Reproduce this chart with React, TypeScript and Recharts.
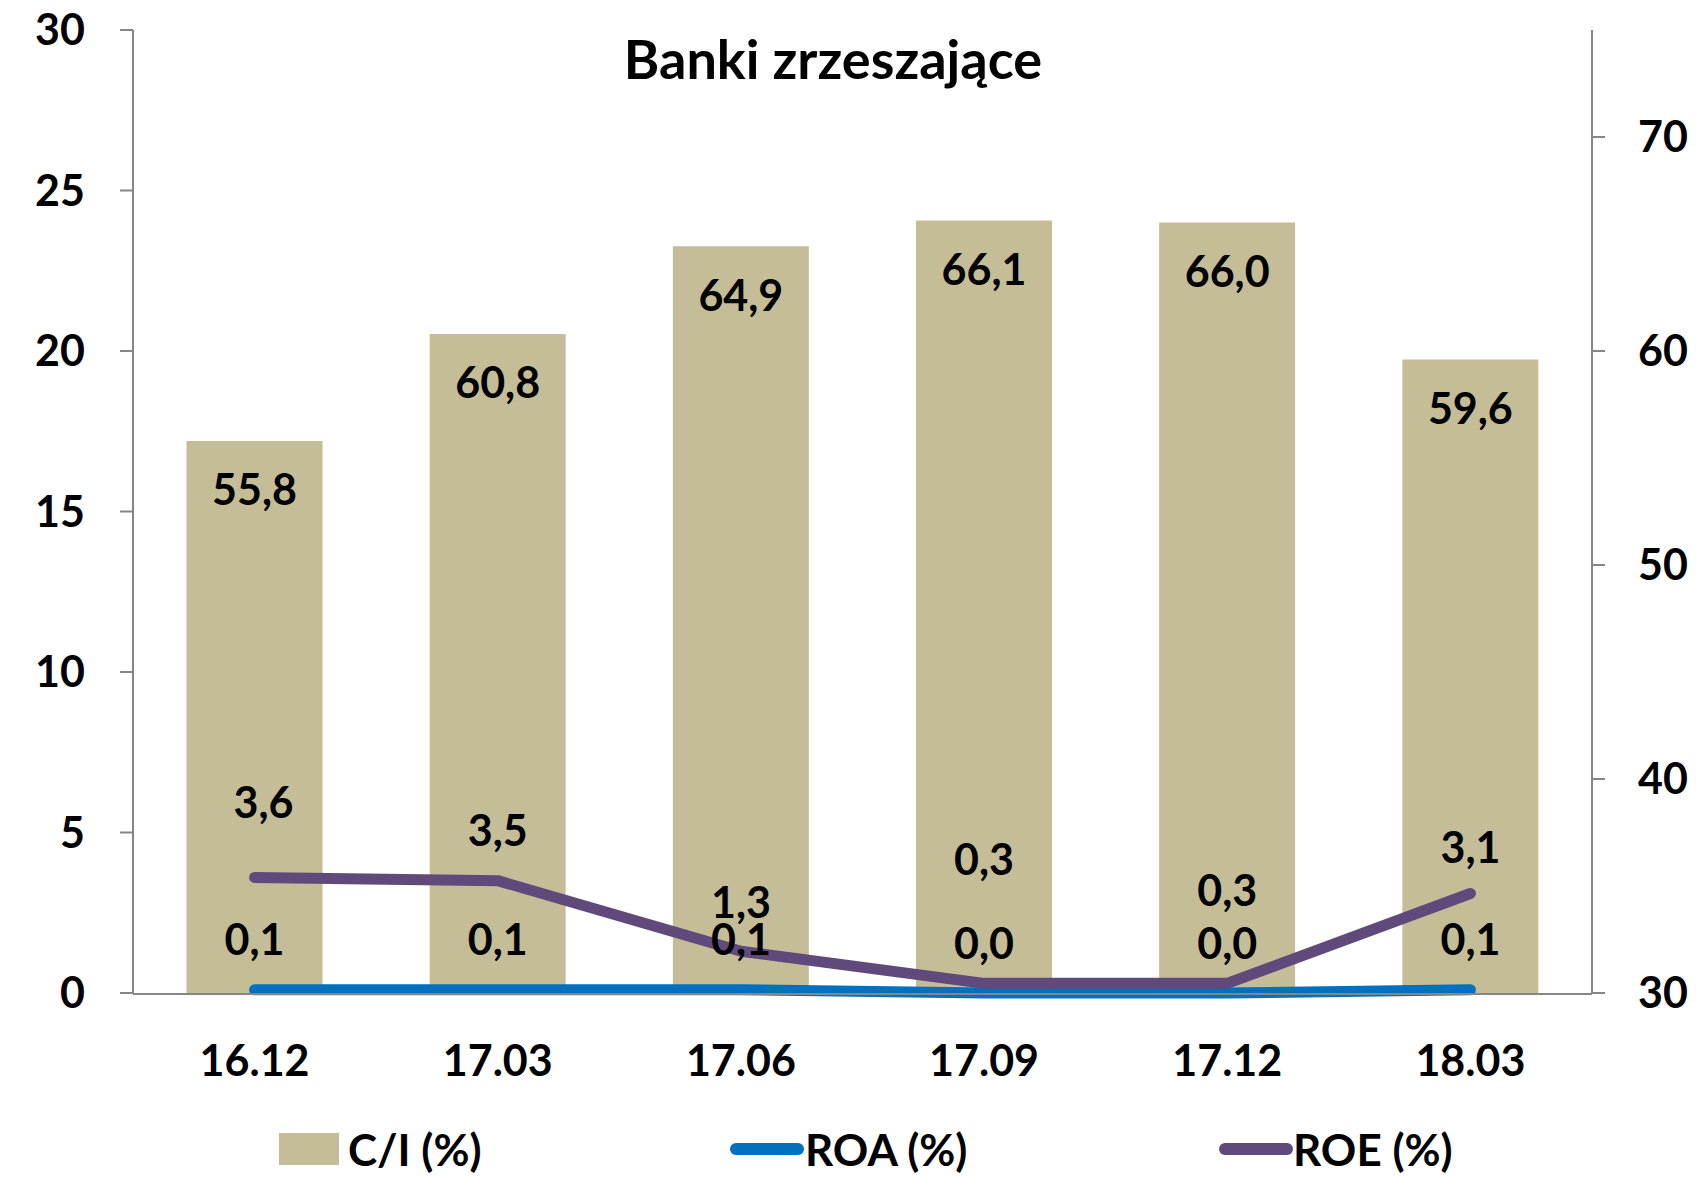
import React from 'react'
import { ComposedChart, Bar, Line, XAxis, YAxis, Legend, LabelList, Customized } from 'recharts'

const categories = ['16.12', '17.03', '17.06', '17.09', '17.12', '18.03']
const ciValues = [55.8, 60.8, 64.9, 66.1, 66.0, 59.6]
const roaValues = [0.1, 0.1, 0.1, 0.0, 0.0, 0.1]
const roeValues = [3.6, 3.5, 1.3, 0.3, 0.3, 3.1]
const leftTicks = [0, 5, 10, 15, 20, 25, 30]
const rightTicks = [30, 40, 50, 60, 70]
const boundaryTicks = [0, 1, 2, 3, 4, 5, 6]

// label lift above each ROE point (hand placed in the original)
const roeLabelLift = [76, 51, 50, 125, 94, 47]

const data = categories.map((name, i) => ({
  name,
  ci: ciValues[i],
  roa: roaValues[i],
  roe: roeValues[i],
}))

const FONT = "Lato, 'Open Sans', sans-serif"
const AXIS = '#868686'
const BAR = '#C4BD97'
const ROA = '#0070C0'
const ROE = '#604A7B'

const fmt = (v: number) => v.toFixed(1).replace('.', ',')

const txt = { fontFamily: FONT, fontWeight: 700, fontSize: 43, fill: '#000' }

function CatTick({ x, y, payload }: any) {
  return (
    <text x={x} y={y + 66} textAnchor="middle" dominantBaseline="central" {...txt}>
      {payload.value}
    </text>
  )
}

function BarLabel({ x, y, width, value }: any) {
  return (
    <text x={x + width / 2} y={y + 48} textAnchor="middle" dominantBaseline="central" {...txt}>
      {fmt(value)}
    </text>
  )
}

function RoaLabel({ x, y, value }: any) {
  return (
    <text x={x} y={y - 51} textAnchor="middle" dominantBaseline="central" {...txt}>
      {fmt(value)}
    </text>
  )
}

function RoeLabel({ x, y, value, index }: any) {
  return (
    <text x={x + (index === 0 ? 9 : 0)} y={y - roeLabelLift[index]} textAnchor="middle" dominantBaseline="central" {...txt}>
      {fmt(value)}
    </text>
  )
}

function Title() {
  return (
    <text x={833} y={58} textAnchor="middle" dominantBaseline="central" {...txt} fontSize={54}>
      Banki zrzeszające
    </text>
  )
}

function LegendContent() {
  const label = { position: 'absolute' as const, top: 0, height: 50, lineHeight: '50px', fontFamily: FONT, fontWeight: 700, fontSize: 44, color: '#000' }
  return (
    <div style={{ position: 'relative', width: 1704, height: 50 }}>
      <div style={{ position: 'absolute', left: 279, top: 9, width: 60, height: 32, background: BAR }} />
      <div style={{ ...label, left: 348 }}>C/I (%)</div>
      <div style={{ position: 'absolute', left: 730, top: 19, width: 74, height: 12, borderRadius: 6, background: ROA }} />
      <div style={{ ...label, left: 805 }}>ROA (%)</div>
      <div style={{ position: 'absolute', left: 1219, top: 19, width: 74, height: 12, borderRadius: 6, background: ROE }} />
      <div style={{ ...label, left: 1293 }}>ROE (%)</div>
    </div>
  )
}

export default function App() {
  return (
    <div style={{ position: 'absolute', left: 0, top: 0, background: '#fff' }}>
      <ComposedChart
        width={1704}
        height={1180}
        data={data}
        margin={{ top: 30, right: 0, bottom: 6, left: 0 }}
        barCategoryGap="22%"
      >
        <XAxis
          xAxisId="cat"
          dataKey="name"
          axisLine={false}
          tickLine={false}
          tickSize={0}
          tickMargin={0}
          height={1}
          interval={0}
          tick={<CatTick />}
        />
        <XAxis
          xAxisId="grid"
          type="number"
          domain={[0, 6]}
          ticks={boundaryTicks}
          tick={false}
          tickSize={17}
          height={130}
          axisLine={{ stroke: AXIS, strokeWidth: 2 }}
          tickLine={{ stroke: AXIS, strokeWidth: 2 }}
        />
        <YAxis
          yAxisId="left"
          domain={[0, 30]}
          ticks={leftTicks}
          width={133}
          tickSize={13}
          tickMargin={35}
          axisLine={{ stroke: AXIS, strokeWidth: 2 }}
          tickLine={{ stroke: AXIS, strokeWidth: 2 }}
          tick={txt}
        />
        <YAxis
          yAxisId="right"
          orientation="right"
          domain={[30, 75]}
          ticks={rightTicks}
          width={112}
          tickSize={13}
          tickMargin={33}
          axisLine={{ stroke: AXIS, strokeWidth: 2 }}
          tickLine={{ stroke: AXIS, strokeWidth: 2 }}
          tick={txt}
        />
        <Bar xAxisId="cat" yAxisId="right" dataKey="ci" name="C/I (%)" fill={BAR} isAnimationActive={false}>
          <LabelList dataKey="ci" content={<BarLabel />} />
        </Bar>
        <Line
          xAxisId="cat"
          yAxisId="left"
          dataKey="roa"
          name="ROA (%)"
          type="linear"
          stroke={ROA}
          strokeWidth={11}
          strokeLinecap="round"
          dot={false}
          isAnimationActive={false}
        >
          <LabelList dataKey="roa" content={<RoaLabel />} />
        </Line>
        <Line
          xAxisId="cat"
          yAxisId="left"
          dataKey="roe"
          name="ROE (%)"
          type="linear"
          stroke={ROE}
          strokeWidth={11}
          strokeLinecap="round"
          strokeLinejoin="round"
          dot={false}
          isAnimationActive={false}
        >
          <LabelList dataKey="roe" content={<RoeLabel />} />
        </Line>
        <Legend verticalAlign="bottom" height={50} content={<LegendContent />} />
        <Customized component={<Title />} />
      </ComposedChart>
    </div>
  )
}
